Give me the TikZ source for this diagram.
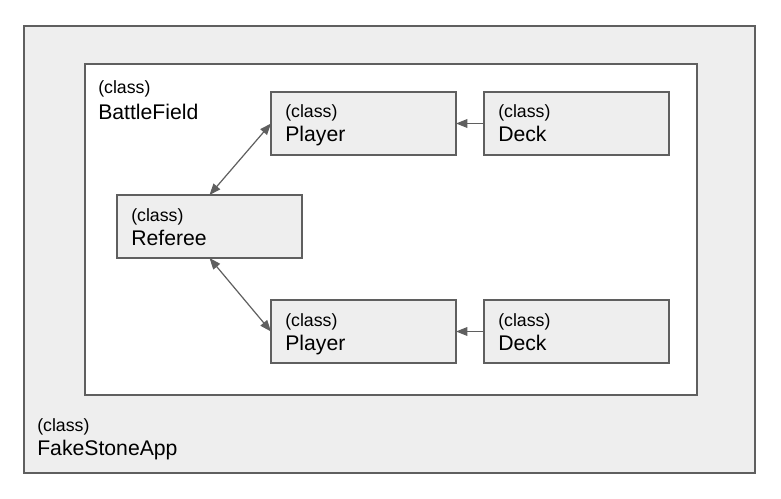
\documentclass[tikz,border=0pt]{standalone}
\usepackage{fontspec}
\setmainfont{Liberation Sans}
\usetikzlibrary{arrows.meta,calc}
\definecolor{boxfill}{HTML}{EEEEEE}
\definecolor{edgegray}{HTML}{5F5F5F}
\begin{document}
\begin{tikzpicture}[x=0.75pt,y=-0.75pt,
  box/.style={draw=edgegray,line width=1pt,fill=boxfill,anchor=north west,inner sep=0pt,outer sep=0pt,minimum width=138.75pt,minimum height=47.25pt},
  smalltxt/.style={anchor=base west,inner sep=0pt,font=\fontsize{13.3}{16}\selectfont},
  bigtxt/.style={anchor=base west,inner sep=0pt,font=\fontsize{15.9}{19}\selectfont},
  tipshape/.style={},
  conn/.style={draw=edgegray,line width=0.9pt,-{Triangle[length=8.5pt,width=6.5pt]}},
  conn2/.style={draw=edgegray,line width=0.9pt,{Triangle[length=8.5pt,width=6.5pt]}-{Triangle[length=8.5pt,width=6.5pt]}}]
\useasboundingbox (0,0) rectangle (781,499);
% outer app
\node[box,minimum width=548.25pt,minimum height=335.25pt] (app) at (24,26) {};
\node[box,fill=white,minimum width=459pt,minimum height=248.25pt] (bf) at (85,64) {};
\node[smalltxt] (appc) at ($(app.north west)+(13,405)$) {(class)};
\node[bigtxt] (appn) at ($(app.north west)+(13,429)$) {FakeStoneApp};
\node[smalltxt] (bfc) at ($(bf.north west)+(13,30)$) {(class)};
\node[bigtxt] (bfn) at ($(bf.north west)+(13,56)$) {BattleField};
% class boxes
\node[box] (p1) at (271,92) {};
\node[box] (d1) at (484,92) {};
\node[box] (ref) at (117,195) {};
\node[box] (p2) at (271,300) {};
\node[box] (d2) at (484,300) {};
\foreach \n/\t in {p1/Player,d1/Deck,ref/Referee,p2/Player,d2/Deck}{
  \node[smalltxt] (\n c) at ($(\n.north west)+(14,26)$) {(class)};
  \node[bigtxt] (\n t) at ($(\n.north west)+(14,50)$) {\t};
}
% connectors
\draw[conn] (d1.west) -- (p1.east);
\draw[conn] (d2.west) -- (p2.east);
\draw[conn2] (ref.north) -- (p1.west);
\draw[conn2] (ref.south) -- (p2.west);
\end{tikzpicture}
\end{document}
